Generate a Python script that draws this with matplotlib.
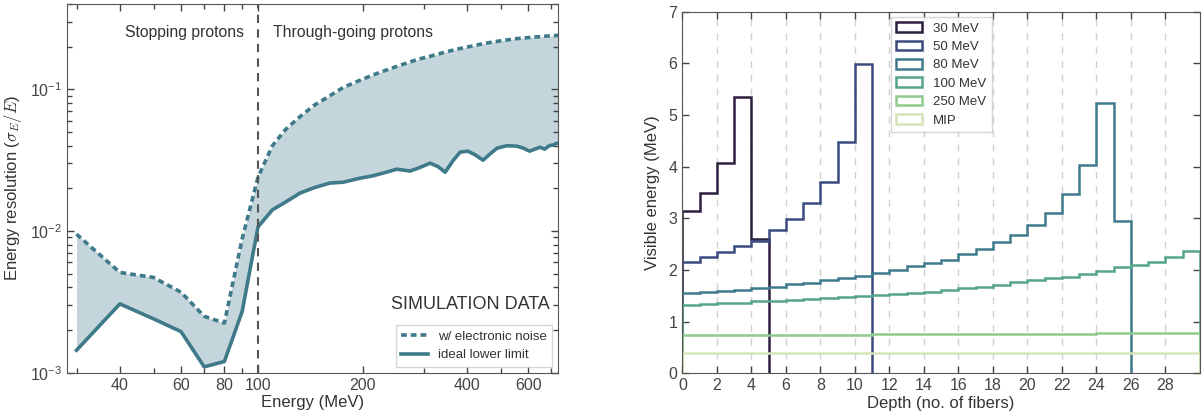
import numpy as np
import matplotlib
matplotlib.use("Agg")
import matplotlib.pyplot as plt
from matplotlib.ticker import FixedLocator, NullFormatter, LogLocator, ScalarFormatter

plt.rcParams['font.family'] = ['Liberation Sans', 'DejaVu Sans']
plt.rcParams['mathtext.fontset'] = 'cm'
plt.rcParams['axes.unicode_minus'] = False
plt.rcParams['text.color'] = '#333333'
plt.rcParams['axes.labelcolor'] = '#333333'
plt.rcParams['xtick.color'] = '#444444'
plt.rcParams['ytick.color'] = '#444444'
plt.rcParams['axes.edgecolor'] = '#555555'

# --- left panel: energy resolution vs energy ---
energy = [30, 40, 50, 60, 70, 80, 90, 100, 110, 120, 132, 145, 161, 176, 197, 214,
          229, 251, 274, 292, 313, 330, 346, 365, 382, 402, 422, 445, 466, 488, 521,
          557, 580, 606, 630, 650, 670, 690, 710, 727, 750]
res_noise = [0.0095, 0.0051, 0.0047, 0.0037, 0.0025, 0.00224, 0.0088, 0.024, 0.040,
             0.052, 0.064, 0.077, 0.090, 0.103, 0.116, 0.126, 0.134, 0.145, 0.156,
             0.164, 0.171, 0.177, 0.183, 0.189, 0.194, 0.199, 0.204, 0.210, 0.214,
             0.218, 0.223, 0.228, 0.230, 0.232, 0.234, 0.235, 0.237, 0.238, 0.239,
             0.240, 0.241]
res_ideal = [0.00144, 0.00306, 0.0024, 0.00195, 0.0011, 0.0012, 0.0027, 0.0107, 0.0141,
             0.0160, 0.0185, 0.0202, 0.0218, 0.0221, 0.0236, 0.0245, 0.0256, 0.0273,
             0.0265, 0.0280, 0.0301, 0.0285, 0.0260, 0.0315, 0.0360, 0.0366, 0.0345,
             0.0316, 0.0350, 0.0384, 0.0400, 0.0397, 0.0385, 0.0366, 0.0380, 0.0390,
             0.0378, 0.0400, 0.0405, 0.0417, 0.0418]
energy_ticks = [40, 60, 80, 100, 200, 400, 600]
energy_minor = [30, 50, 70, 90, 300, 500, 700]

# --- right panel: visible energy per fiber ---
e30 = [3.15, 3.50, 4.08, 5.35, 2.60]
e50 = [2.16, 2.25, 2.35, 2.47, 2.57, 2.77, 2.98, 3.29, 3.71, 4.47, 5.99]
e80 = [1.55, 1.57, 1.60, 1.62, 1.65, 1.68, 1.72, 1.75, 1.80, 1.84, 1.89, 1.94, 2.00,
       2.07, 2.13, 2.19, 2.30, 2.41, 2.54, 2.68, 2.87, 3.11, 3.48, 4.04, 5.23, 2.95]
e100 = [1.33, 1.34, 1.36, 1.37, 1.39, 1.40, 1.42, 1.44, 1.46, 1.48, 1.50, 1.52, 1.54,
        1.56, 1.58, 1.61, 1.65, 1.68, 1.71, 1.76, 1.80, 1.84, 1.87, 1.92, 1.99, 2.05,
        2.10, 2.16, 2.26, 2.36]
e250 = [0.735, 0.737, 0.738, 0.740, 0.741, 0.743, 0.744, 0.746, 0.747, 0.749, 0.750,
        0.752, 0.753, 0.755, 0.756, 0.758, 0.759, 0.761, 0.762, 0.764, 0.765, 0.767,
        0.768, 0.770, 0.771, 0.773, 0.774, 0.776, 0.777, 0.779]
emip = [0.40, 0.40, 0.40, 0.40, 0.40, 0.40, 0.40, 0.40, 0.40, 0.40, 0.40, 0.40, 0.40,
        0.40, 0.40, 0.40, 0.40, 0.40, 0.40, 0.40, 0.40, 0.40, 0.40, 0.40, 0.40, 0.40,
        0.40, 0.40, 0.40, 0.40]
series = [e30, e50, e80, e100, e250, emip]
series_labels = ["30 MeV", "50 MeV", "80 MeV", "100 MeV", "250 MeV", "MIP"]
colors = ["#2c1e3d", "#3b4a80", "#3e7a8c", "#55a58a", "#8fcb8f", "#d6e5b9"]

teal = "#3e7a8a"

fig = plt.figure(figsize=(12.03, 4.2), dpi=100)
ax1 = fig.add_axes([0.0554, 0.1126, 0.4087, 0.8779])
ax2 = fig.add_axes([0.5672, 0.1112, 0.4303, 0.8609])

# left
ax1.fill_between(energy, res_noise, res_ideal, color=teal, alpha=0.3, lw=0)
ax1.plot(energy, res_noise, color=teal, lw=2.6, ls=(0, (1.6, 1.1)), label="w/ electronic noise")
ax1.plot(energy, res_ideal, color=teal, lw=2.6, label="ideal lower limit")
ax1.axvline(100, color="#555555", lw=1.5, ls=(0, (4, 3)))
ax1.set_xscale("log")
ax1.set_yscale("log")
ax1.set_xlim(28.1, 733)
ax1.set_ylim(1e-3, 0.4)
ax1.xaxis.set_major_locator(FixedLocator(energy_ticks))
ax1.xaxis.set_major_formatter(ScalarFormatter())
ax1.xaxis.set_minor_locator(FixedLocator(energy_minor))
ax1.xaxis.set_minor_formatter(NullFormatter())
ax1.yaxis.set_minor_locator(LogLocator(subs=np.arange(2, 10)))
ax1.yaxis.set_minor_formatter(NullFormatter())
ax1.tick_params(which="both", direction="in", top=True, right=True, labelsize=11.5)
ax1.tick_params(which="major", length=5, width=1)
ax1.tick_params(which="minor", length=3.5, width=1)
ax1.set_xlabel("Energy (MeV)", fontsize=12, labelpad=2)
ax1.set_ylabel(r"Energy resolution ($\sigma_E/E$)", fontsize=12, labelpad=4)
ax1.text(0.2407, 0.924, "Stopping protons", transform=ax1.transAxes, ha="center",
         va="center", fontsize=11.3)
ax1.text(0.4197, 0.924, "Through-going protons", transform=ax1.transAxes, ha="left",
         va="center", fontsize=11.3)
ax1.text(0.983, 0.184, "SIMULATION DATA", transform=ax1.transAxes, ha="right",
         va="center", fontsize=13)
leg1 = ax1.legend(loc="lower right", fontsize=9.5, frameon=True, fancybox=False,
                  borderaxespad=0.45, handlelength=2.0)
leg1.get_frame().set_edgecolor("#cccccc")
leg1.get_frame().set_linewidth(1.0)

# right
edges = np.arange(0, 31)
for vals, lab, c in zip(series, series_labels, colors):
    ax2.hist(edges[:len(vals)], bins=edges[:len(vals) + 1], weights=vals,
             histtype="step", color=c, lw=1.8, label=lab)
ax2.set_xlim(0, 30)
ax2.set_ylim(0, 7)
ax2.set_xticks(np.arange(0, 30, 2))
ax2.set_yticks(np.arange(0, 8, 1))
ax2.grid(axis="x", color="#d0d0d0", ls=(0, (5, 5)), lw=1)
ax2.set_axisbelow(True)
ax2.tick_params(which="both", direction="in", top=True, right=True, labelsize=11.5,
                length=5, width=1)
ax2.set_xlabel("Depth (no. of fibers)", fontsize=12, labelpad=2)
ax2.set_ylabel("Visible energy (MeV)", fontsize=12, labelpad=6)
leg2 = ax2.legend(loc="upper center", fontsize=9.5, frameon=True, fancybox=False,
                  borderaxespad=0.4, labelspacing=0.45, handlelength=2.0,
                  handleheight=0.75)
leg2.get_frame().set_edgecolor("#cccccc")
leg2.get_frame().set_linewidth(1.0)

fig.savefig("out.png", dpi=100)
